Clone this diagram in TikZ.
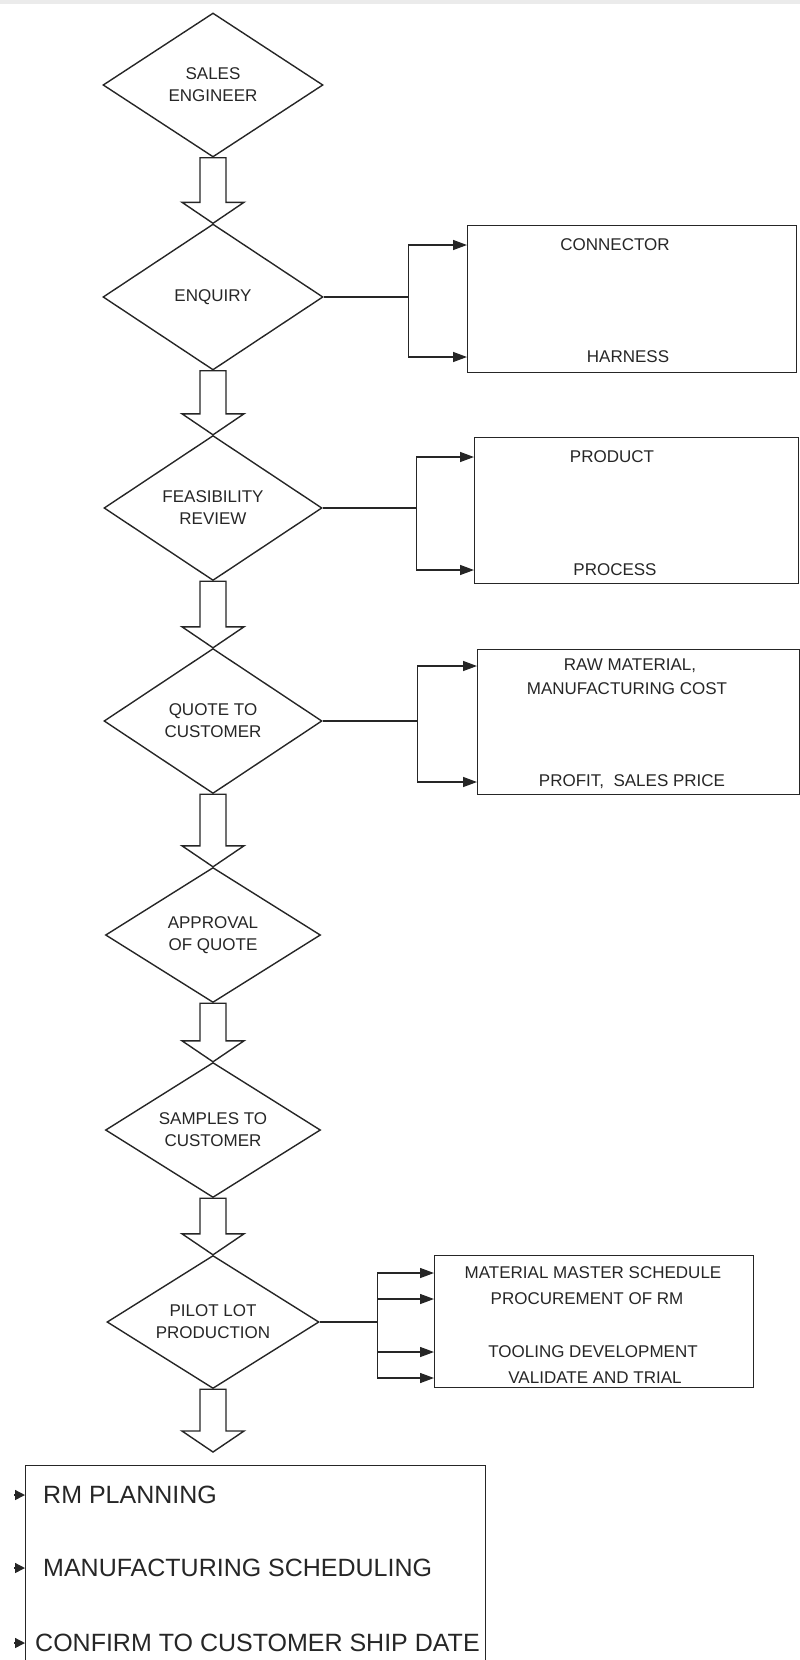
\documentclass[tikz,border=0pt]{standalone}
\usepackage{fontspec}
\setmainfont{Liberation Sans}
\usetikzlibrary{arrows.meta,shapes.geometric,calc}

\begin{document}
\begin{tikzpicture}[x=1pt,y=-1pt,
	stage/.style={diamond, draw=black!85, line width=1.4pt, aspect=1.5, inner sep=0pt, align=center, text=black!85, font=\fontsize{17}{22}\selectfont},
	infobox/.style={rectangle, draw=black!85, line width=1.4pt, anchor=north west},
	note/.style={inner sep=0pt, text=black!85, font=\fontsize{17}{20}\selectfont},
	bignote/.style={inner sep=0pt, anchor=west, text=black!85, font=\fontsize{25}{30}\selectfont},
	link/.style={draw=black!85, line width=1.4pt},
	feed/.style={link, -{Triangle[length=14pt,width=10pt]}},
	smalltip/.style={link, -{Triangle[length=10pt,width=10pt]}},
	hollow/.style={link, fill=white},
	]
	\useasboundingbox (0,0) rectangle (800,1660);
	\clip (0,0) rectangle (800,1660);
	\fill[black!8] (0,0) rectangle (800,4);
	
	% Main flow
	\node[stage, minimum width=220pt, minimum height=144pt] (sales) at (213,85) {SALES\\ENGINEER};
	\node[stage, minimum width=220pt, minimum height=146pt] (enq) at (213,297) {ENQUIRY};
	\node[stage, minimum width=218pt, minimum height=145pt] (feas) at (213,508) {FEASIBILITY\\REVIEW};
	\node[stage, minimum width=218pt, minimum height=145pt] (quote) at (213,721) {QUOTE TO\\CUSTOMER};
	\node[stage, minimum width=215pt, minimum height=135pt] (appr) at (213,935) {APPROVAL\\OF QUOTE};
	\node[stage, minimum width=215pt, minimum height=135pt] (samp) at (213,1130) {SAMPLES TO\\CUSTOMER};
	\node[stage, minimum width=212pt, minimum height=133pt] (pilot) at (213,1322) {PILOT LOT\\PRODUCTION};
	
	% Side boxes
	\node[infobox, minimum width=329pt, minimum height=147pt] (box1) at (467,225) {};
	\node[note] (t-conn) at (615,245) {CONNECTOR};
	\node[note] (t-harn) at (628,357) {HARNESS};
	
	\node[infobox, minimum width=324pt, minimum height=146pt] (box2) at (474,437) {};
	\node[note] (t-prod) at (612,457) {PRODUCT};
	\node[note] (t-proc) at (615,570) {PROCESS};
	
	\node[infobox, minimum width=322pt, minimum height=145pt] (box3) at (477,649) {};
	\node[note] (t-raw) at (630,666) {RAW MATERIAL,};
	\node[note] (t-cost) at (627,689) {MANUFACTURING COST};
	\node[note] (t-price) at (632,782) {PROFIT,\ \ SALES PRICE};
	
	\node[infobox, minimum width=319pt, minimum height=132pt] (box4) at (434,1255) {};
	\node[note] (t-mms) at (593,1273) {MATERIAL MASTER SCHEDULE};
	\node[note] (t-rmproc) at (587,1299) {PROCUREMENT OF RM};
	\node[note] (t-tool) at (593,1352) {TOOLING DEVELOPMENT};
	\node[note] (t-valid) at (595,1378) {VALIDATE AND TRIAL};
	
	% Final box
	\node[infobox, minimum width=460pt, minimum height=240pt] (fin) at (25,1465) {};
	\node[bignote] (t-rm) at (43,1495) {RM PLANNING};
	\node[bignote] (t-mfg) at (43,1568) {MANUFACTURING SCHEDULING};
	\node[bignote] (t-ship) at (35,1643) {CONFIRM TO CUSTOMER SHIP DATE};
	\coordinate (finin) at (213,1452);
	
	% Hollow arrows down the column
	\foreach \a/\b in {sales.south/enq.north, enq.south/feas.north, feas.south/quote.north,
		quote.south/appr.north, appr.south/samp.north, samp.south/pilot.north, pilot.south/finin}
	\draw[hollow] let \p1=(\a), \p2=(\b) in
	(\x1-13pt,\y1) -- (\x1-13pt,\y2+21pt) -- (\x1-31pt,\y2+21pt) -- (\x2,\y2)
	-- (\x1+31pt,\y2+21pt) -- (\x1+13pt,\y2+21pt) -- (\x1+13pt,\y1) -- cycle;
	
	% Branches to the side boxes
	\draw[link] (enq.east) -- ++(85,0) coordinate (fk1);
	\draw[feed] (fk1) |- (t-conn -| box1.west);
	\draw[feed] (fk1) |- (t-harn -| box1.west);
	
	\draw[link] (feas.east) -- ++(94,0) coordinate (fk2);
	\draw[feed] (fk2) |- (t-prod -| box2.west);
	\draw[feed] (fk2) |- (t-proc -| box2.west);
	
	\draw[link] (quote.east) -- ++(95,0) coordinate (fk3);
	\draw[feed] (fk3) |- (t-raw -| box3.west);
	\draw[feed] (fk3) |- (t-price -| box3.west);
	
	\draw[link] (pilot.east) -- ++(58,0) coordinate (fk4);
	\foreach \t in {t-mms, t-rmproc, t-tool, t-valid}
	\draw[feed] (fk4) |- (\t -| box4.west);
	
	% Tips on the final box
	\foreach \t in {t-rm, t-mfg, t-ship}
	\draw[smalltip] (\t -| fin.west) ++(-11,0) -- (\t -| fin.west);
\end{tikzpicture}
\end{document}
